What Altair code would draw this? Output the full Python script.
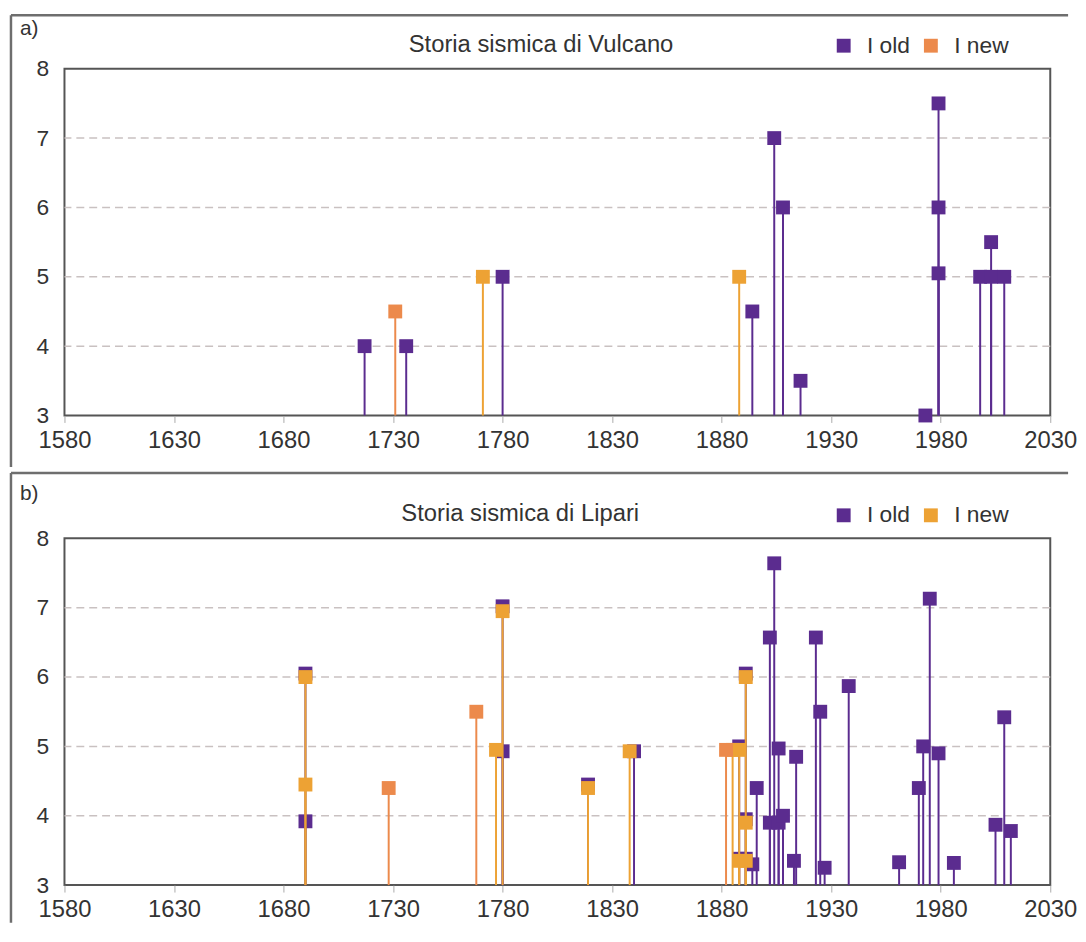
import altair as alt
import pandas as pd

FONT = "Liberation Sans"
PURPLE = "#5B2C8F"
GOLD = "#EDA234"
CORAL = "#EC8A4C"
TXT = "#333333"

# ---------------- data ----------------
x_ticks = [1580, 1630, 1680, 1730, 1780, 1830, 1880, 1930, 1980, 2030]
y_ticks = [3, 4, 5, 6, 7, 8]
grid_levels = [4, 5, 6, 7]

# a) Vulcano
a_title = "Storia sismica di Vulcano"
a_old_year = [1717, 1736, 1780, 1894, 1904, 1908, 1916, 1973, 1979, 1979, 1979, 1998, 2003, 2003, 2009]
a_old_int = [4.0, 4.0, 5.0, 4.5, 7.0, 6.0, 3.5, 3.0, 7.5, 6.0, 5.05, 5.0, 5.0, 5.5, 5.0]
a_new_year = [1731, 1771, 1888]
a_new_int = [4.5, 5.0, 5.0]
a_new_group = ["I new", "I new*", "I new*"]

# b) Lipari
b_title = "Storia sismica di Lipari"
b_old_year = [1690, 1690, 1780, 1780, 1819, 1840, 1888, 1888, 1891, 1891, 1891, 1894, 1896,
              1902, 1902, 1904, 1906, 1906, 1908, 1913, 1914, 1923, 1925, 1927, 1938, 1961,
              1970, 1972, 1975, 1979, 1986, 2005, 2009, 2012]
b_old_int = [6.05, 3.92, 7.02, 4.93, 4.45, 4.93, 5.0, 3.38, 6.05, 3.95, 3.38, 3.3, 4.4,
             6.57, 3.9, 7.64, 4.97, 3.9, 4.0, 3.35, 4.85, 6.57, 5.5, 3.25, 5.87, 3.33,
             4.4, 5.0, 7.13, 4.9, 3.32, 3.87, 5.42, 3.78]
b_new_year = [1690, 1690, 1728, 1768, 1777, 1780, 1819, 1838, 1882, 1885, 1888, 1888, 1891, 1891, 1891]
b_new_int = [6.0, 4.45, 4.4, 5.5, 4.95, 6.95, 4.4, 4.93, 4.95, 4.95, 4.95, 3.35, 6.0, 3.9, 3.35]
b_new_group = ["I new", "I new", "I new*", "I new*", "I new", "I new", "I new", "I new",
               "I new*", "I new", "I new", "I new", "I new", "I new", "I new"]


def make_df(old_y, old_v, new_y, new_v, new_g):
    rows = [{"year": y, "value": v, "series": "I old"} for y, v in zip(old_y, old_v)]
    rows += [{"year": y, "value": v, "series": g} for y, v, g in zip(new_y, new_v, new_g)]
    return pd.DataFrame(rows)


W, H = 995, 350
xscale = alt.Scale(domain=[1580, 2030], nice=False, zero=False)
yscale = alt.Scale(domain=[3, 8], nice=False, zero=False)


def panel(df, title, tag, new_color, alt_color, tag_y, title_y, box_top, box_bottom):
    cscale = alt.Scale(domain=["I old", "I new", "I new*"], range=[PURPLE, new_color, alt_color])
    color = alt.Color(
        "series:N", scale=cscale,
        legend=alt.Legend(
            values=["I old", "I new"], title=None, orient="none", legendX=775, legendY=-35,
            direction="horizontal", symbolType="square", symbolSize=196, symbolStrokeWidth=0,
            labelFontSize=23, labelFont=FONT, labelColor=TXT, labelOffset=12, columnPadding=9,
        ),
    )
    x_enc = alt.X(
        "year:Q", scale=xscale,
        axis=alt.Axis(values=x_ticks, format="d", title=None, grid=False, domain=False,
                      tickColor="#aaaaaa", tickSize=7, tickWidth=1, labelFontSize=24,
                      labelFont=FONT, labelColor=TXT, labelPadding=6, labelFlush=False,
                      labelOverlap=False),
    )
    y_axis = alt.Axis(values=y_ticks, title=None, grid=False, domain=False, ticks=False,
                      labelPadding=16, labelFontSize=23, labelFont=FONT, labelColor=TXT)
    y_enc = alt.Y("value:Q", scale=yscale, axis=y_axis)

    grid = alt.Chart(pd.DataFrame({"value": grid_levels})).mark_rule(
        color="#c9c1c1", strokeWidth=1.5, strokeDash=[8, 5]
    ).encode(y=y_enc)

    base = alt.Chart(df)
    layers = [grid]
    for grp in ["I old", "I new", "I new*"]:
        sub = base.transform_filter(alt.datum.series == grp)
        layers.append(sub.mark_rule(strokeWidth=2).encode(
            x=x_enc, y=y_enc, y2=alt.datum(3), color=color))
        layers.append(sub.mark_square(size=196, opacity=1).encode(
            x=x_enc, y=y_enc, color=color))

    one = alt.InlineData(values=[{"k": 0}])
    deco_rule = dict(color="#6e6e6e", strokeWidth=2.5, clip=False)
    top_line = alt.Chart(one).mark_rule(**deco_rule).encode(
        x=alt.value(-54), x2=alt.value(1013), y=alt.value(box_top))
    left_line = alt.Chart(one).mark_rule(**deco_rule).encode(
        x=alt.value(-54), y=alt.value(box_top), y2=alt.value(box_bottom))
    title_txt = alt.Chart(one).mark_text(
        font=FONT, fontSize=24, color=TXT, align="center", baseline="middle", clip=False
    ).encode(x=alt.value(title[1]), y=alt.value(title_y), text=alt.value(title[0]))
    tag_txt = alt.Chart(one).mark_text(
        font=FONT, fontSize=21, color=TXT, align="left", baseline="middle", clip=False
    ).encode(x=alt.value(-45), y=alt.value(tag_y), text=alt.value(tag))
    layers += [top_line, left_line, title_txt, tag_txt]
    return alt.layer(*layers).properties(width=W, height=H)


df_a = make_df(a_old_year, a_old_int, a_new_year, a_new_int, a_new_group)
df_b = make_df(b_old_year, b_old_int, b_new_year, b_new_int, b_new_group)

pa = panel(df_a, (a_title, 481), "a)", CORAL, GOLD, -40, -24, -54, 402)
pb = panel(df_b, (b_title, 460), "b)", GOLD, CORAL, -45, -25, -66, 388)

chart = (
    alt.vconcat(pa, pb, spacing=0)
    .resolve_scale(color="independent")
    .resolve_legend(color="independent")
    .configure(padding=0)
    .configure_view(stroke="#555555", strokeWidth=2)
)

chart.save("out.html", embed_options={"renderer": "svg", "actions": False})
